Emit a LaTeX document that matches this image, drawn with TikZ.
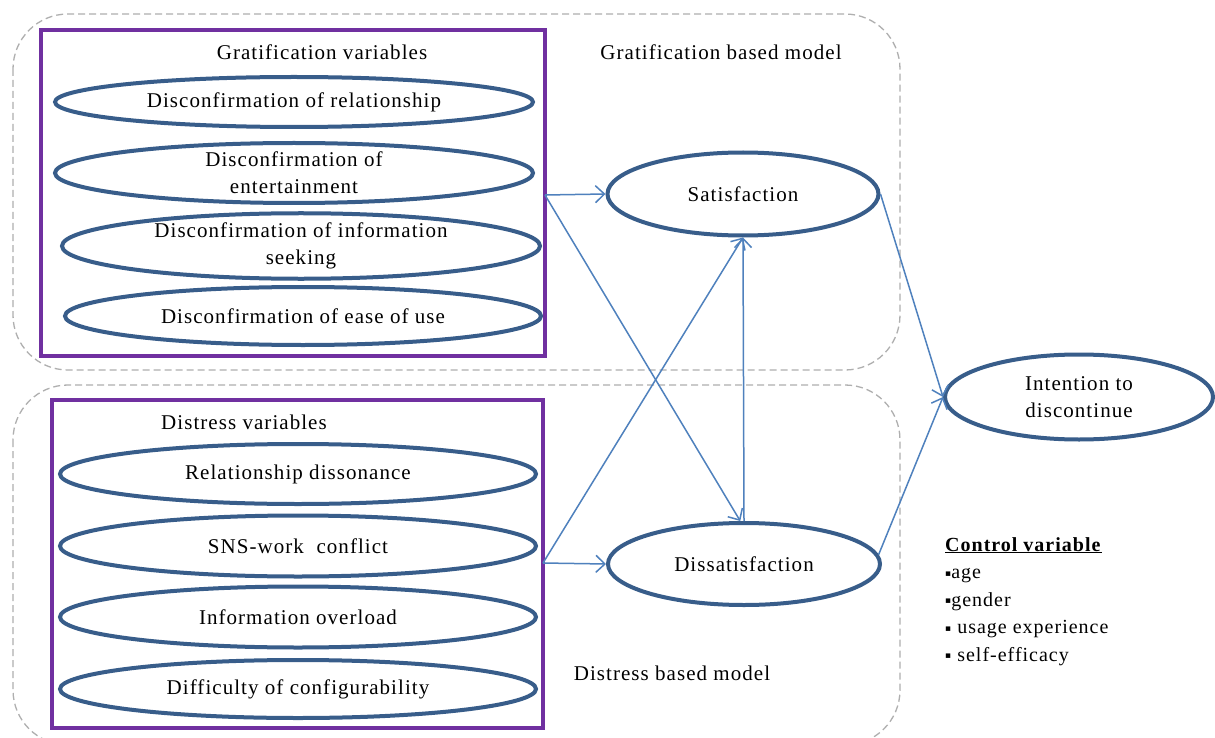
\documentclass[tikz,border=0pt]{standalone}
\usepackage{fontspec}
\setmainfont{Liberation Serif}[LetterSpace=5]
\newfontfamily\symfont{DejaVu Sans}
\usetikzlibrary{shapes.geometric,arrows.meta}
\definecolor{ellblue}{RGB}{56,93,138}
\definecolor{arrblue}{RGB}{79,129,189}
\definecolor{boxpurple}{RGB}{112,48,160}
\definecolor{dashgray}{RGB}{175,175,175}
\newcommand{\mybul}{\raisebox{2.5pt}{\symfont\fontsize{9}{9}\selectfont ▪}}
\tikzset{
  var/.style={ellipse, draw=ellblue, line width=4pt, fill=white, align=center, inner sep=0pt,
    font=\fontsize{21}{27}\selectfont},
  pbox/.style={draw=boxpurple, line width=3.8pt, inner sep=0pt},
  region/.style={draw=dashgray, line width=1.3pt, dash pattern=on 7pt off 4pt, rounded corners=55pt},
  lbl/.style={font=\fontsize{21}{27}\selectfont, align=center, inner sep=0pt},
  link/.style={draw=arrblue, line width=1.5pt, -{Straight Barb[length=9pt,width=17pt,line width=1.5pt]}}
}
\begin{document}
\begin{tikzpicture}[x=1pt,y=-1pt]
\useasboundingbox (0,0) rectangle (1215,738);
\fill[white] (0,0) rectangle (1215,738);
% dashed regions
\draw[region] (13,14) rectangle (900,370);
\draw[region] (13,385) rectangle (900,745);
% purple boxes
\node[pbox, minimum width=504pt, minimum height=326pt] (gbox) at (293,193) {};
\node[pbox, minimum width=491pt, minimum height=328pt] (dbox) at (297.5,564) {};
% labels
\node[lbl] (glab) at (322,52) {Gratification variables};
\node[lbl] (gmod) at (721,52) {Gratification based model};
\node[lbl] (dlab) at (244,422) {Distress variables};
\node[lbl] (dmod) at (672,673) {Distress based model};
% gratification variables
\node[var, minimum width=478pt, minimum height=50pt] (g1) at (294,102) {Disconfirmation of relationship};
\node[var, minimum width=478pt, minimum height=60pt] (g2) at (294,173) {Disconfirmation of\\entertainment};
\node[var, minimum width=478pt, minimum height=63pt] (g3) at (301,246) {Disconfirmation of information\\seeking};
\node[var, minimum width=476pt, minimum height=58pt] (g4) at (303,316) {Disconfirmation of ease of use};
% distress variables
\node[var, minimum width=476pt, minimum height=60pt] (d1) at (298,474) {Relationship dissonance};
\node[var, minimum width=476pt, minimum height=61pt] (d2) at (298,546) {SNS-work\ \ conflict};
\node[var, minimum width=476pt, minimum height=61pt] (d3) at (298,617) {Information overload};
\node[var, minimum width=476pt, minimum height=58pt] (d4) at (298,689) {Difficulty of configurability};
% outcomes
\node[var, minimum width=271pt, minimum height=83pt] (sat) at (743,194) {Satisfaction};
\node[var, minimum width=272pt, minimum height=82pt] (dis) at (744,564) {Dissatisfaction};
\node[var, minimum width=268pt, minimum height=85pt] (int) at (1079,397) {Intention to\\discontinue};
% control variables
\node[font=\fontsize{20}{27.5}\selectfont, align=left, anchor=north west, inner sep=0pt] (ctrl) at (945,537)
 {\underline{\textbf{Control variable}}\\
  \mybul age\\
  \mybul gender\\
  \mybul\ usage experience\\
  \mybul\ self-efficacy};
% connectors
\coordinate (gout) at (545,195);
\coordinate (dout) at (543,563);
\draw[link] (gout) -- (sat.west);
\draw[link] (gout) -- (dis.95);
\draw[link] (dout) -- (dis.west);
\draw[link] (dout) -- (sat.south);
\draw[link] (dis.north) -- (sat.south);
\draw[link] (sat.east) -- (int.west);
\draw[link] (dis.4) -- (int.west);
\end{tikzpicture}
\end{document}
